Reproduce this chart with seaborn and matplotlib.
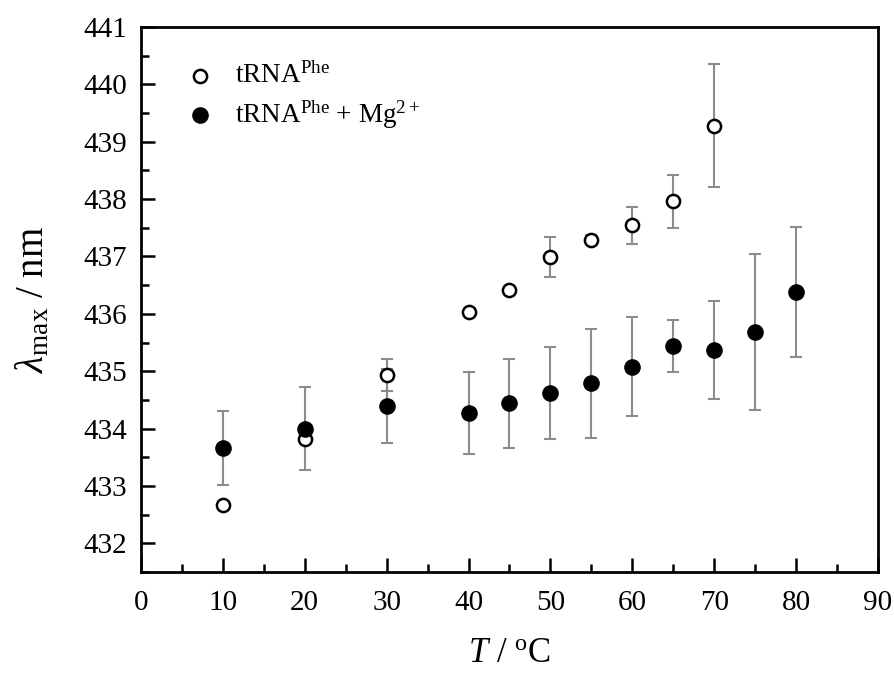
import numpy as np
import pandas as pd
import seaborn as sns
import matplotlib
matplotlib.use("Agg")
import matplotlib.pyplot as plt
from matplotlib.ticker import MultipleLocator

# Data
t_free = [10, 20, 30, 40, 45, 50, 55, 60, 65, 70]
lam_free = [432.66, 433.81, 434.93, 436.03, 436.41, 436.99, 437.29, 437.54, 437.96, 439.28]
err_free = [0.05, 0.06, 0.28, 0.04, 0.06, 0.35, 0.08, 0.32, 0.46, 1.07]

t_mg = [10, 20, 30, 40, 45, 50, 55, 60, 65, 70, 75, 80]
lam_mg = [433.66, 434.00, 434.39, 434.27, 434.44, 434.62, 434.79, 435.08, 435.44, 435.37, 435.69, 436.38]
err_mg = [0.64, 0.72, 0.65, 0.71, 0.78, 0.81, 0.95, 0.86, 0.46, 0.86, 1.36, 1.13]

labels = ["tRNA$^{\\mathrm{Phe}}$", "tRNA$^{\\mathrm{Phe}}$ + Mg$^{2+}$"]

sns.set_style("ticks")
plt.rcParams['font.family'] = ['Liberation Serif', 'DejaVu Serif']
plt.rcParams['mathtext.fontset'] = 'custom'
plt.rcParams['mathtext.rm'] = 'Liberation Serif'
plt.rcParams['mathtext.it'] = 'Liberation Serif:italic'
plt.rcParams['text.color'] = 'black'
plt.rcParams['axes.labelcolor'] = 'black'
plt.rcParams['xtick.color'] = 'black'
plt.rcParams['ytick.color'] = 'black'

fig = plt.figure(figsize=(8.95, 6.75), dpi=100)
ax = fig.add_axes([0.1575, 0.1526, 0.8235, 0.8074])

df_free = pd.DataFrame({"T": t_free, "lam": lam_free, "err": err_free})
df_mg = pd.DataFrame({"T": t_mg, "lam": lam_mg, "err": err_mg})

ax.errorbar(df_mg["T"], df_mg["lam"], yerr=df_mg["err"], fmt="none",
            ecolor="#8c8c8c", elinewidth=1.5, capsize=4.5, capthick=1.5, zorder=1)
ax.errorbar(df_free["T"], df_free["lam"], yerr=df_free["err"], fmt="none",
            ecolor="#8c8c8c", elinewidth=1.5, capsize=4.5, capthick=1.5, zorder=1)

sns.scatterplot(data=df_free, x="T", y="lam", ax=ax, marker="o", s=90,
                facecolor="white", edgecolor="black", linewidth=1.8,
                label=labels[0], zorder=3)
sns.scatterplot(data=df_mg, x="T", y="lam", ax=ax, marker="o", s=120,
                color="black", edgecolor="black", linewidth=1.0,
                label=labels[1], zorder=3)

ax.set_xlim(0, 90)
ax.set_ylim(431.5, 441)
ax.xaxis.set_major_locator(MultipleLocator(10))
ax.xaxis.set_minor_locator(MultipleLocator(5))
ax.yaxis.set_major_locator(MultipleLocator(1))
ax.yaxis.set_minor_locator(MultipleLocator(0.5))
ax.tick_params(which="both", direction="in", top=False, right=False,
               labelsize=21, width=1.8, colors="black")
ax.tick_params(axis="x", pad=13)
ax.tick_params(axis="y", pad=10)
ax.tick_params(which="major", length=10)
ax.tick_params(which="minor", length=6)
for sp in ax.spines.values():
    sp.set_visible(True)
    sp.set_linewidth(2.0)
    sp.set_color("black")

ax.set_xlabel("$\\mathit{T}$ / $^{\\mathrm{o}}$C", fontsize=25, labelpad=15)
ax.set_ylabel("$\\mathit{\\lambda}_{\\mathrm{max}}$ / nm", fontsize=28, labelpad=22)

leg = ax.legend(loc="upper left", bbox_to_anchor=(0.04, 0.965), frameon=False,
                fontsize=19.5, handletextpad=0.8, labelspacing=0.35,
                borderaxespad=0.2, handlelength=1.0)

fig.savefig("out.png", dpi=100)
